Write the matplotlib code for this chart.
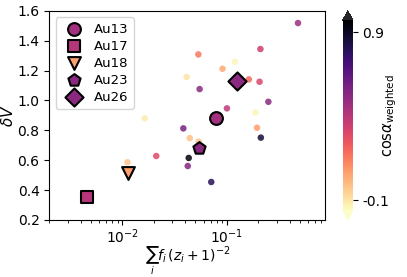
import matplotlib
matplotlib.use("Agg")
import matplotlib.pyplot as plt
import numpy as np

# small scatter points
sx = [0.478, 0.209, 0.0533, 0.119, 0.0908, 0.0412, 0.162, 0.205, 0.0548, 0.249,
      0.100, 0.187, 0.0383, 0.194, 0.211, 0.0164, 0.0441, 0.0536, 0.0431, 0.0422,
      0.0708, 0.0112, 0.0211]
sy = [1.518, 1.344, 1.308, 1.259, 1.212, 1.157, 1.141, 1.125, 1.076, 0.991,
      0.947, 0.920, 0.813, 0.817, 0.751, 0.880, 0.748, 0.724, 0.615, 0.561,
      0.454, 0.586, 0.628]
sc = [0.48, 0.35, 0.16, -0.14, 0.04, -0.10, 0.20, 0.31, 0.52, 0.52,
      0.38, -0.14, 0.57, 0.066, 0.86, -0.12, -0.01, -0.01, 0.95, 0.54,
      0.80, -0.02, 0.29]

# highlighted clusters
names = ["Au13", "Au17", "Au18", "Au23", "Au26"]
mx = [0.0791, 0.00464, 0.0113, 0.0546, 0.126]
my = [0.882, 0.352, 0.516, 0.684, 1.128]
mc = [0.46, 0.405, 0.066, 0.52, 0.52]
markers = ["o", "s", "v", "p", "D"]

vmin, vmax = -0.16, 0.97
cmap = plt.get_cmap("magma_r")
norm = matplotlib.colors.Normalize(vmin=vmin, vmax=vmax)

fig = plt.figure(figsize=(4.07, 2.77), dpi=100)
ax = fig.add_axes([0.121, 0.206, 0.678, 0.755])
cax = fig.add_axes([0.842, 0.206, 0.025, 0.755])

sca = ax.scatter(sx, sy, c=sc, cmap=cmap, norm=norm, s=22, alpha=0.85,
                 edgecolors="none", zorder=2)
for n, x, y, c, m in zip(names, mx, my, mc, markers):
    ax.scatter([x], [y], c=[c], cmap=cmap, norm=norm, marker=m, s=85,
               edgecolors="black", linewidths=1.5, label=n, zorder=3)

ax.set_xscale("log")
ax.set_xlim(2e-3, 0.87)
ax.set_ylim(0.2, 1.6)
ax.set_yticks([0.2, 0.4, 0.6, 0.8, 1.0, 1.2, 1.4, 1.6])
ax.tick_params(labelsize=10)
ax.tick_params(axis="x", pad=2)
ax.set_ylabel(r"$\delta V$", fontsize=11, labelpad=1)
ax.set_xlabel(r"$\sum_i f_i\,(z_i+1)^{-2}$", fontsize=10)
ax.xaxis.set_label_coords(0.5, -0.12)

ax.legend(loc="upper left", fontsize=9.5, handletextpad=0.5,
          borderpad=0.4, labelspacing=0.3, markerscale=1.0)

cb = fig.colorbar(sca, cax=cax, extend="both")
cb.solids.set_alpha(1)
cb.set_ticks([-0.1, 0.9])
cb.set_ticklabels(["-0.1", "0.9"])
cb.ax.tick_params(labelsize=10)
cb.outline.set_visible(False)
cb.set_label(r"cos$\alpha_{\rm weighted}$", fontsize=10.5, labelpad=-6)

fig.savefig("out.png", dpi=100)
